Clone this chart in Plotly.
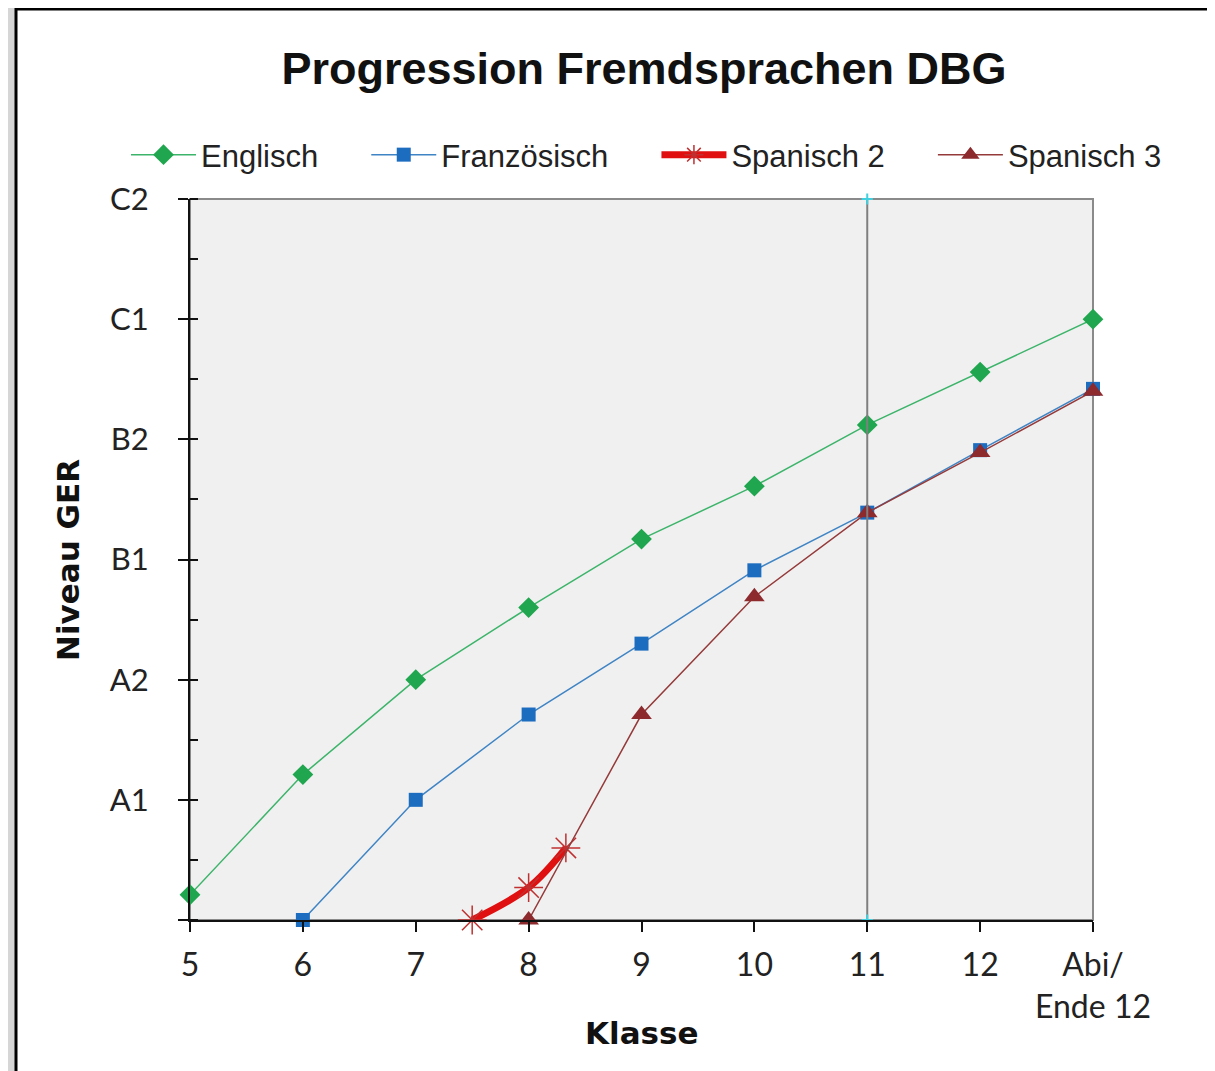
import plotly.graph_objects as go

# ---- data ----
level_labels = ["", "A1", "A2", "B1", "B2", "C1", "C2"]
level_vals = [0, 1, 2, 3, 4, 5, 6]
class_vals = [5, 6, 7, 8, 9, 10, 11, 12, 13]
class_labels = ["5", "6", "7", "8", "9", "10", "11", "12", "Abi/<br>Ende 12"]

series_names = ["Englisch", "Französisch", "Spanisch 2", "Spanisch 3"]

englisch_x = [5, 6, 7, 8, 9, 10, 11, 12, 13]
englisch_y = [0.21, 1.21, 2.0, 2.6, 3.17, 3.61, 4.12, 4.56, 5.0]

franz_x = [6, 7, 8, 9, 10, 11, 12, 13]
franz_y = [0.0, 1.0, 1.71, 2.3, 2.91, 3.39, 3.91, 4.42]

span2_x = [7.5, 8, 8.33]
span2_y = [0.0, 0.27, 0.6]

span3_x = [8, 9, 10, 11, 12, 13]
span3_y = [0.0, 1.71, 2.69, 3.39, 3.89, 4.4]

divider_x = [11, 11]
divider_y = [0, 6]

# page offset (html body margin) of 8px
OFF = 8
W, H = 1215, 1071
L, T = 190 - OFF, 199 - OFF
R = W - (1093 - OFF)
B = H - (920 - OFF)
pw, ph = W - L - R, H - T - B


def px_x(p):
    return (p - OFF - L) / pw


def px_y(p):
    return (H - B - (p - OFF)) / ph


PAD = "\u00a0" * 5

fig = go.Figure()

fig.add_trace(go.Scatter(
    x=divider_x, y=divider_y, mode="lines+markers", yaxis="y2",
    line=dict(color="#7f7f7f", width=2),
    marker=dict(symbol="cross-thin-open", size=8, color="#40d0e0", line=dict(width=2, color="#40d0e0")),
    showlegend=False, cliponaxis=False, hoverinfo="skip"))

fig.add_trace(go.Scatter(
    x=englisch_x, y=englisch_y, name=series_names[0] + PAD, mode="lines+markers",
    line=dict(color="#3cb46a", width=1.5),
    marker=dict(symbol="diamond", size=16, color="#1fa64e"),
    cliponaxis=False))

fig.add_trace(go.Scatter(
    x=franz_x, y=franz_y, name=series_names[1] + PAD, mode="lines+markers",
    line=dict(color="#3f84c4", width=1.5),
    marker=dict(symbol="square", size=14, color="#1c6cc0"),
    cliponaxis=False))

fig.add_trace(go.Scatter(
    x=span2_x, y=span2_y, name=series_names[2] + PAD, mode="lines+markers",
    line=dict(color="#e01010", width=7, shape="spline"),
    marker=dict(symbol="asterisk-open", size=24, color="#c03030", line=dict(width=1.5, color="#c03030")),
    cliponaxis=False))

fig.add_trace(go.Scatter(
    x=span3_x, y=span3_y, name=series_names[3], mode="lines+markers",
    line=dict(color="#953a3a", width=1.5),
    marker=dict(symbol="triangle-up", size=18, color="#8c2a2e"),
    cliponaxis=False))

fig.update_layout(
    width=W, height=H,
    margin=dict(l=L, r=R, t=T, b=B),
    paper_bgcolor="#d6d6d6",
    plot_bgcolor="rgba(0,0,0,0)",
    title=dict(text="<b>Progression Fremdsprachen DBG</b>", x=(644 - OFF) / W, xanchor="center",
               y=1 - (68 - OFF) / H, yanchor="middle", yref="container",
               font=dict(family="Liberation Sans", size=45, color="#111")),
    legend=dict(orientation="h", x=px_x(126), xanchor="left", y=px_y(155), yanchor="middle",
                font=dict(family="Liberation Sans", size=31, color="#222"),
                itemwidth=65, bgcolor="rgba(0,0,0,0)", tracegroupgap=0),
    xaxis=dict(range=[5, 13], tickvals=class_vals, ticktext=class_labels,
               showgrid=False, zeroline=False, showline=True, linecolor="#111", linewidth=2,
               ticks="outside", ticklen=10, tickwidth=2, tickcolor="#111",
               ticklabelstandoff=6,
               tickfont=dict(family="Lato", size=32, color="#222")),
    yaxis=dict(range=[0, 6], tickvals=level_vals, ticktext=level_labels,
               showgrid=False, zeroline=False, showline=True, linecolor="#111", linewidth=2,
               ticks="outside", ticklen=10, tickwidth=2, tickcolor="#111",
               ticklabelstandoff=23,
               tickfont=dict(family="Lato", size=31, color="#222"),
               minor=dict(dtick=0.5, ticks="inside", ticklen=8, tickwidth=2, tickcolor="#111")),
    yaxis2=dict(range=[0, 6], overlaying="y", anchor="x", side="left",
                tickvals=level_vals, showticklabels=False, showgrid=False, zeroline=False,
                showline=False, ticks="inside", ticklen=8, tickwidth=2, tickcolor="#111"),
    shapes=[
        dict(type="rect", xref="paper", yref="paper", layer="below",
             x0=px_x(16), x1=px_x(1213), y0=px_y(1095), y1=px_y(9),
             fillcolor="white", line=dict(color="black", width=3)),
        dict(type="rect", xref="paper", yref="paper", layer="below",
             x0=0, x1=1, y0=0, y1=1,
             fillcolor="#f0f0f0", line=dict(color="#8a8a8a", width=2)),
    ],
    annotations=[
        dict(text="<b>Klasse</b>", xref="paper", yref="paper", x=px_x(642), y=px_y(1033),
             showarrow=False, xanchor="center", yanchor="middle",
             font=dict(family="DejaVu Sans", size=31, color="#111")),
        dict(text="<b>Niveau GER</b>", xref="paper", yref="paper", x=px_x(68), y=px_y(560),
             showarrow=False, xanchor="center", yanchor="middle", textangle=-90,
             font=dict(family="DejaVu Sans", size=31, color="#111")),
    ],
)

fig.write_html("out.html")
